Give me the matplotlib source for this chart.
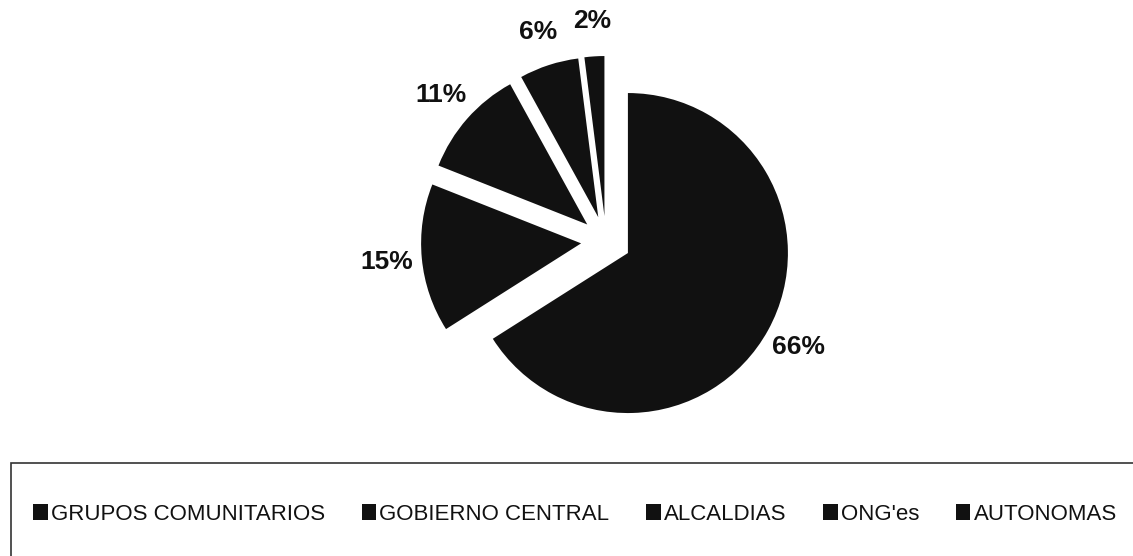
import matplotlib.pyplot as plt
from matplotlib.patches import Rectangle

plt.rcParams['font.family'] = ['Liberation Sans', 'DejaVu Sans']

categories = ['GRUPOS COMUNITARIOS', 'GOBIERNO CENTRAL', 'ALCALDIAS', "ONG'es", 'AUTONOMAS']
shares = [66, 15, 11, 6, 2]

W, H = 1133, 556
fig = plt.figure(figsize=(W / 100, H / 100), dpi=100)
ax = fig.add_axes([0, 0, 1, 1])

# axes in pixel units so the pie can be placed like the scan;
# explode is in data units (pixels) here, not radius fractions
wedges, _, pct_texts = ax.pie(shares, center=(606, H - 241), radius=160,
                              startangle=90, counterclock=False,
                              explode=[25] * len(shares),
                              colors=['#111111'] * len(shares),
                              autopct='%1.0f%%', pctdistance=1.22,
                              wedgeprops=dict(linewidth=0))
for t in pct_texts:
    t.set_fontsize(19)
    t.set_fontweight('bold')
    t.set_color('#111111')

ax.set_xlim(0, W)
ax.set_ylim(0, H)
ax.set_aspect('equal')
ax.axis('off')

# legend frame (runs off the bottom/right edge in the scan)
frame = Rectangle((11 / W, -0.2), 1.2, 1 - 463 / H + 0.2, transform=fig.transFigure,
                  fill=False, edgecolor='#333333', linewidth=1.2, clip_on=False)
fig.patches.append(frame)

fig.legend(wedges, categories, loc='center', ncol=5,
           bbox_to_anchor=(575 / W, 1 - 514 / H), frameon=False,
           fontsize=16, handlelength=0.65, handleheight=0.75,
           handletextpad=0.15, columnspacing=1.65, labelcolor='#111111')

fig.savefig('out.png', dpi=100)
